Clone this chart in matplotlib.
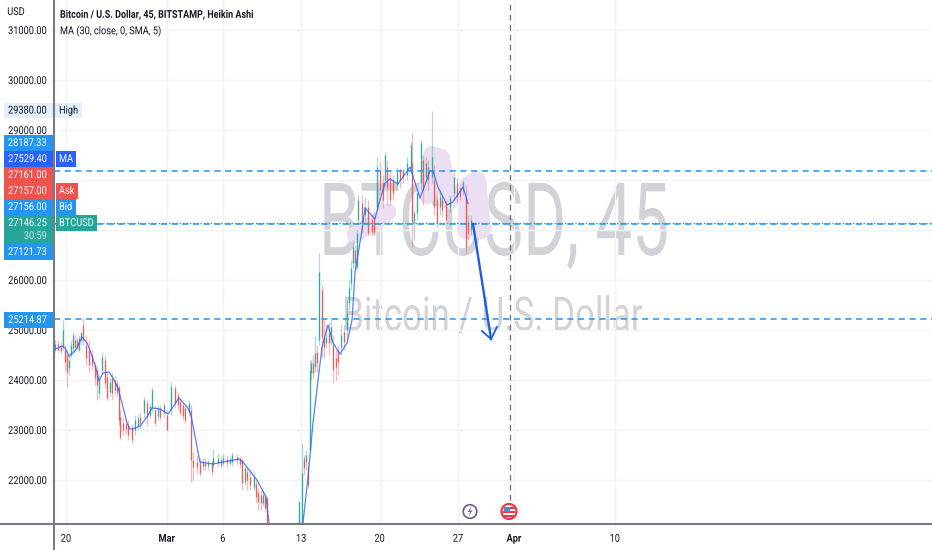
import numpy as np
import matplotlib
matplotlib.use('Agg')
import matplotlib.pyplot as plt
from matplotlib.collections import LineCollection
from matplotlib.patches import Rectangle, Circle, Polygon
from matplotlib.patheffects import AbstractPathEffect
from matplotlib.transforms import Affine2D

plt.rcParams['font.family'] = ['Roboto', 'DejaVu Sans']

#%%
# candles: days counted from 20 Feb, prices in USD
candle_day = [-0.98,-0.71,-0.45,-0.27,-0.09,0.09,0.27,0.45,0.63,0.80,0.98,1.16,1.34,1.52,1.79,2.05,2.32,2.59,2.77,2.95,
    3.21,3.48,3.66,3.93,4.11,4.38,4.55,4.73,4.82,5.09,5.36,5.54,5.89,6.16,6.43,6.61,6.96,7.23,7.50,7.68,
    7.95,8.21,8.39,8.75,9.02,9.38,9.73,10.0,10.18,10.45,10.63,10.98,11.16,11.34,11.70,11.96,12.23,12.41,12.68,13.04,
    13.13,13.57,13.84,14.02,14.38,14.64,14.82,15.27,15.54,15.71,15.98,16.16,16.43,16.79,16.96,17.14,17.41,17.59,17.77,17.95,
    20.80,21.07,21.25,21.43,21.61,21.79,21.88,22.05,22.23,22.41,22.59,22.86,23.04,23.21,23.48,23.66,23.84,24.11,24.29,24.55,
    24.82,25.09,25.27,25.45,25.63,25.80,25.98,26.07,26.43,26.70,26.96,27.32,27.50,27.77,28.04,28.30,28.48,28.66,28.93,29.20,
    29.55,29.82,30.09,30.45,30.80,30.89,31.07,31.34,31.70,31.88,32.14,32.32,32.68,32.86,33.13,33.39,33.57,33.93,34.29,34.64,
    34.91,35.18,35.45,35.71,35.89,36.16]
candle_high = [24800,24800,24760,25200,24700,24600,24500,24800,24960,24900,24840,24900,24980,25240,24900,24800,24600,24360,24300,24100,
    24560,24500,24160,24040,24160,24080,24000,23900,23400,23240,23200,23200,23120,23300,23320,23360,23660,23600,23540,23860,
    23500,23500,23500,23560,23400,23960,23900,23760,23640,23540,23500,23600,23500,22560,22500,22440,22440,22440,22420,22400,
    22620,22540,22500,22520,22480,22480,22560,22520,22480,22440,22300,22240,22200,22160,22000,21840,21800,21800,21720,21680,
    21600,22740,22500,22600,22360,24400,24400,24500,24880,24700,26540,25900,25200,25100,25160,25260,24900,24600,24700,25100,
    25100,25600,26000,26400,26800,26700,27000,27700,27700,27660,27600,27300,27360,28460,28360,28100,28560,28400,28200,28100,
    28260,28240,28240,28460,28760,28940,27400,27800,28800,28500,28460,28400,29380,28300,27800,27800,27700,27600,27700,28140,
    28040,27940,28000,27900,27300,27300]
candle_low = [24560,24560,24520,24600,24200,23860,24100,24440,24560,24600,24600,24560,24700,24700,24300,24160,24200,23900,23600,23640,
    24120,23840,23600,23680,23600,23720,23680,23100,22800,22900,22920,22800,22740,22900,23000,23040,23240,23100,23240,23360,
    23100,23200,23200,23260,23000,23300,23440,23400,23280,23200,23120,23280,21960,22000,22140,22080,22200,22200,22200,22080,
    22240,22260,22240,22280,22260,22300,22280,22320,22240,21820,21900,21800,21800,21800,21540,21400,21400,21480,21360,21000,
    21000,21000,22100,22200,21840,22560,24000,24040,24160,24160,24700,24460,24440,24640,24500,24700,23940,24000,24100,24500,
    24600,24800,25400,25800,26240,26240,26200,27140,26940,27100,26900,26880,26900,27400,27700,27440,27900,27500,27500,27600,
    27800,27840,27940,28000,28160,26660,26800,27200,27800,27500,27940,27800,27940,27300,27060,27300,27260,27200,27340,27600,
    27540,27600,27700,26540,26800,26900]
candle_open = [24600,24720,24680,24660,24600,24500,24240,24500,24640,24800,24800,24600,24800,25100,24700,24600,24500,24300,24200,23740,
    24200,24400,24060,23760,24040,23800,23940,23860,23260,23140,23120,23100,23060,23000,23080,23260,23340,23540,23300,23440,
    23400,23280,23440,23340,23300,23400,23840,23700,23560,23500,23440,23360,23400,22400,22360,22360,22280,22340,22280,22340,
    22300,22340,22400,22340,22420,22340,22360,22460,22440,22400,21960,22160,22060,21860,21920,21760,21700,21540,21660,21640,
    21140,21140,22440,22360,22260,22600,24140,24340,24260,24560,24800,25800,24860,24740,24940,24800,24700,24440,24600,24660,
    24960,25000,25540,25940,26340,26600,26260,27200,27540,27300,27460,27200,27260,27460,28200,27940,28000,28260,28060,28000,
    27900,28200,28200,28100,28240,28340,27140,27340,27940,28400,28060,28260,28060,28000,27600,27460,27600,27540,27460,27740,
    27940,27840,27800,27660,27140,27000]
candle_close = [24720,24600,24580,25000,24360,24160,24400,24700,24900,24660,24640,24840,24940,24800,24440,24300,24300,24040,23900,24000,
    24460,23940,23640,23960,23740,24000,23760,23200,22860,23000,23020,22900,22800,23200,23240,23140,23600,23260,23480,23800,
    23140,23440,23260,23500,23000,23860,23540,23500,23340,23280,23200,23540,22400,22260,22260,22140,22360,22280,22360,22160,
    22440,22440,22300,22440,22340,22420,22500,22400,22320,21940,22240,22000,21900,22060,21660,21560,21540,21700,21440,21120,
    21560,22140,22240,22500,21900,24200,24340,24140,24540,24340,26160,24860,24660,24860,24740,25060,24200,24260,24360,24900,
    24760,25340,25840,26240,26660,26340,26940,27600,27140,27460,26940,26960,26940,28260,27800,27600,28500,27860,27600,27740,
    28160,28000,28060,28340,28700,27160,27340,27740,28740,27800,28340,28000,28460,27460,27140,27660,27400,27200,27640,28060,
    27660,27660,27960,26660,26940,27200]

# moving average, it leaves the visible range around 9-12 Mar
ma_day = [-0.98,-0.71,-0.36,-0.09,0.27,0.63,0.98,1.43,1.88,2.14,2.59,2.95,3.30,3.84,4.20,4.64,5.00,5.45,5.71,5.98,
    6.61,7.23,7.68,8.39,9.11,10.09,10.89,11.16,11.96,13.13,14.02,15.45,15.80,17.05,17.86,18.13,18.8,20.4,
    21.16,21.61,22.05,22.86,23.39,23.84,24.46,25.09,25.54,25.80,26.43,26.70,27.59,27.86,28.48,28.93,29.64,30.71,31.61,32.50,
    32.77,33.21,34.02,34.55,35.45,35.89]
ma_price = [24620,24640,24680,24640,24480,24540,24640,24860,24740,24600,24300,23980,24140,24160,24040,23840,23540,23140,23020,23020,
    23080,23260,23440,23420,23320,23640,23440,23300,22360,22320,22360,22420,22360,22000,21660,21140,20400,20400,
    21140,22060,23140,24660,25100,24740,24520,24740,25200,26140,27000,27440,27220,27460,27940,28020,27920,28260,27640,28180,
    28180,27860,27500,27560,27860,27529.40]

# hand drawn arrow and brush strokes
arrow_day = [36.34, 37.95]
arrow_price = [27120, 24820]
head_day = [37.14, 37.95, 38.48]
head_price = [24980, 24820, 25060]
brush_a_day = [25.8, 26.43, 28.21, 28.75]
brush_a_price = [26900, 27000, 27240, 27360]
brush_b_day = [32.23, 32.68, 33.48, 34.20]
brush_b_price = [27700, 28500, 28440, 27600]
brush_c_day = [35.71, 35.98, 36.70, 37.14]
brush_c_price = [27000, 27900, 28000, 27000]
level_prices = [28187.33, 25214.87]
last_prices = [27146.25, 27121.73]
event_day = 39.64

price_ticks = [22000,23000,24000,25000,26000,27000,28000,29000,30000,31000]
# 27000 and 28000 sit behind the price labels
price_labels = ['22000.00','23000.00','24000.00','25000.00','26000.00','','','29000.00','30000.00','31000.00']
day_ticks = [0, 9, 14, 21, 28, 35, 40, 49]
day_labels = ['20', 'Mar', '6', '13', '20', '27', 'Apr', '10']

# labels on the price scale: text, colour, tag, row centre in pixels
scale_labels = ['28187.33', '27529.40', '27161.00', '27157.00', '27156.00', '27146.25', '27121.73', '25214.87']
scale_colors = ['#2196f3', '#2962ff', '#ef5350', '#ef5350', '#2196f3', '#26a69a', '#2196f3', '#2196f3']
scale_tags = ['', 'MA', '', 'Ask', 'Bid', 'BTCUSD', '', '']
scale_rows = [143, 159, 175, 191, 207, 223, 252, 320]
tag_widths = [0, 20, 0, 22, 20, 41, 0, 0]

#%%
class SqueezeX(AbstractPathEffect):
    # the chart font is narrower than anything installed
    def __init__(self, factor, centre):
        super().__init__()
        self.factor = factor
        self.centre = centre

    def draw_path(self, renderer, gc, tpath, affine, rgbFace=None):
        squeeze = Affine2D().translate(-self.centre, 0).scale(self.factor, 1).translate(self.centre, 0)
        renderer.draw_path(gc, tpath, affine + squeeze, rgbFace)


def narrow(t, x, factor=0.85):
    t.set_path_effects([SqueezeX(factor, x)])
    return t


FS = 7.8
fig = plt.figure(figsize=(9.32, 5.5), dpi=100)
ax = fig.add_axes([54/932, 26/550, 878/932, 524/550])
ax.set_xlim(-1.07, 77.32)
ax.set_ylim(21120, 31600)

ax.set_yticks(price_ticks)
ax.set_yticklabels(price_labels)
ax.set_xticks(day_ticks)
ax.set_xticklabels(day_labels)
ax.tick_params(length=0, labelsize=FS, labelcolor='#131722')
ax.tick_params(axis='y', pad=5)
ax.tick_params(axis='x', pad=7)
for lab in ax.get_yticklabels():
    narrow(lab, 47)
for lab, d in zip(ax.get_xticklabels(), day_ticks):
    narrow(lab, 66 + d * 11.2)
    if lab.get_text() in ('Mar', 'Apr'):
        lab.set_fontweight('bold')
ax.grid(True, color='#f3f3f5', lw=1)
ax.set_axisbelow(True)
for name in ['top', 'right', 'left', 'bottom']:
    ax.spines[name].set_visible(False)

# watermark
wm1 = ax.text(38.21, 27050, 'BTCUSD, 45', fontsize=73, color='#d2d3d8', ha='center', va='center', zorder=0.5)
narrow(wm1, 494, 0.647)
wm2 = ax.text(38.08, 25250, 'Bitcoin / U.S. Dollar', fontsize=34, color='#d2d3d8', ha='center', va='center', zorder=0.5)
narrow(wm2, 492.5, 0.74)

# brush
ax.plot(brush_a_day, brush_a_price, color='#ecdff3', lw=12, solid_capstyle='round', solid_joinstyle='round', zorder=1)
ax.plot(brush_b_day, brush_b_price, color='#ecdff3', lw=13, solid_capstyle='round', solid_joinstyle='round', zorder=1)
ax.plot(brush_c_day, brush_c_price, color='#ecdff3', lw=13, solid_capstyle='round', solid_joinstyle='round', zorder=1)

# candles
up_color, down_color = '#26a69a', '#ef5350'
colors = [up_color if c >= o else down_color for o, c in zip(candle_open, candle_close)]
wicks = [[(d, l), (d, h)] for d, l, h in zip(candle_day, candle_low, candle_high)]
bodies = [[(d, o), (d, c)] for d, o, c in zip(candle_day, candle_open, candle_close)]
ax.add_collection(LineCollection(wicks, colors=colors, linewidths=0.9, alpha=0.4, zorder=2))
ax.add_collection(LineCollection(bodies, colors=colors, linewidths=0.9, alpha=0.9, zorder=3))

ax.plot(ma_day, ma_price, color='#2962ff', lw=0.9, alpha=0.8, zorder=4)

for p in level_prices:
    ax.axhline(p, color='#2196f3', lw=1.1, ls=(0, (4, 3)), zorder=5)
ax.axhline(last_prices[1], color='#2196f3', lw=1.1, ls=(0, (4, 3)), zorder=5)
ax.axhline(last_prices[0], color='#26a69a', lw=1.0, ls=(0, (1, 1.5)), zorder=5)
ax.plot([event_day, event_day], [21600, 31600], color='#6a6d78', lw=0.9, ls=(0, (4.5, 3.5)), zorder=5)

ax.plot(arrow_day, arrow_price, color='#1e5fe0', lw=1.7, zorder=6)
ax.plot(head_day, head_price, color='#1e5fe0', lw=1.3, zorder=6)

#%%
# everything outside the plot area goes on an overlay in pixels
over = fig.add_axes([0, 0, 1, 1], zorder=10)
over.set_xlim(0, 932)
over.set_ylim(550, 0)
over.axis('off')

over.plot([54, 54], [0, 550], color='#787b86', lw=1.5)
over.plot([0, 932], [524, 524], color='#787b86', lw=1.5)

narrow(over.text(16, 12, 'USD', fontsize=FS, color='#131722', ha='center', va='center'), 16)
narrow(over.text(60, 15, 'Bitcoin / U.S. Dollar, 45, BITSTAMP, Heikin Ashi', fontsize=FS, fontweight='bold', color='#131722', va='center'), 60, 0.83)
narrow(over.text(60, 31, 'MA (30, close, 0, SMA, 5)', fontsize=FS, color='#131722', va='center'), 60)

# pale High label
over.add_patch(Rectangle((4, 103), 50, 15, color='#e3effd', lw=0))
over.add_patch(Rectangle((55, 103), 27, 15, color='#e3effd', lw=0))
narrow(over.text(47, 110.5, '29380.00', fontsize=FS, color='#131722', ha='right', va='center'), 47)
narrow(over.text(59, 110.5, 'High', fontsize=FS, color='#131722', va='center'), 59)

for txt, col, tag, row, w in zip(scale_labels, scale_colors, scale_tags, scale_rows, tag_widths):
    h = 29 if tag == 'BTCUSD' else 16
    over.add_patch(Rectangle((4, row - 8), 50, h, color=col, lw=0))
    narrow(over.text(47, row, txt, fontsize=FS, color='white', ha='right', va='center'), 47)
    if tag:
        over.add_patch(Rectangle((56, row - 8), w, 16, color=col, lw=0))
        narrow(over.text(59, row, tag, fontsize=FS, color='white', va='center'), 59)
narrow(over.text(47, 236, '30:59', fontsize=FS, color='#c5e6e2', ha='right', va='center'), 47)

# event icons
over.add_patch(Circle((470, 511.5), 6.8, fc='white', ec='#6b5b8c', lw=1.2))
over.add_patch(Polygon([(472, 506), (467.5, 512), (470, 512), (468.5, 516.5), (472.5, 510.5), (470, 510.5)], color='#7a6a90', lw=0))
over.add_patch(Circle((509, 511.5), 7.5, fc='white', ec='#f23645', lw=1.6))
over.add_patch(Rectangle((504, 506.5), 10.5, 2.2, color='#f23645', lw=0))
over.add_patch(Rectangle((503, 511), 12, 2, color='#f23645', lw=0))
over.add_patch(Rectangle((504, 514.5), 10, 2, color='#f23645', lw=0))
over.add_patch(Rectangle((504, 506.5), 6, 5, color='#4d8ad0', lw=0))

fig.savefig('out.png', dpi=100)
